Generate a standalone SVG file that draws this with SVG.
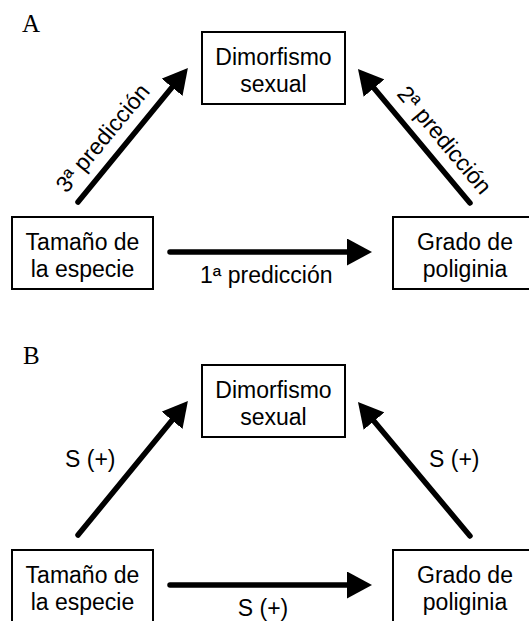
<svg xmlns="http://www.w3.org/2000/svg" width="529" height="621" viewBox="0 0 529 621">
  <style>
    .box { fill: #fff; stroke: #000; stroke-width: 2; }
    .t { font-family: "Liberation Sans", Arial, sans-serif; font-size: 23px; fill: #000; text-anchor: middle; }
    .lbl { font-family: "Liberation Sans", Arial, sans-serif; font-size: 23px; fill: #000; }
    .panel { font-family: "Liberation Serif", "Times New Roman", serif; font-size: 25px; fill: #000; }
    .arr { stroke: #000; stroke-width: 5.5; stroke-linecap: round; fill: none; marker-end: url(#ah); }
  </style>
  <defs>
    <marker id="ah" markerUnits="userSpaceOnUse" markerWidth="25" markerHeight="27" viewBox="0 0 25 27" refX="10" refY="13.5" orient="auto">
      <path d="M0,0 L25,13.5 L0,27 Z" fill="#000"/>
    </marker>
  </defs>

  <text class="panel" x="22" y="31.5">A</text>
  <text class="panel" x="23" y="364">B</text>

  <!-- Panel A nodes -->
  <g id="a-dimorfismo">
    <rect class="box" x="202" y="32" width="143" height="72"/>
    <text class="t" x="273.5" y="65">Dimorfismo</text>
    <text class="t" x="273.5" y="92">sexual</text>
  </g>
  <g id="a-tamano">
    <rect class="box" x="12" y="217" width="141" height="72"/>
    <text class="t" x="82.5" y="250">Tamaño de</text>
    <text class="t" x="82.5" y="277">la especie</text>
  </g>
  <g id="a-grado">
    <rect class="box" x="393" y="217" width="144" height="72"/>
    <text class="t" x="465" y="250">Grado de</text>
    <text class="t" x="465" y="277">poliginia</text>
  </g>

  <!-- Panel B nodes -->
  <g id="b-dimorfismo">
    <rect class="box" x="202" y="365" width="143" height="72"/>
    <text class="t" x="273.5" y="398">Dimorfismo</text>
    <text class="t" x="273.5" y="425">sexual</text>
  </g>
  <g id="b-tamano">
    <rect class="box" x="12" y="550" width="141" height="72"/>
    <text class="t" x="82.5" y="583">Tamaño de</text>
    <text class="t" x="82.5" y="610">la especie</text>
  </g>
  <g id="b-grado">
    <rect class="box" x="393" y="550" width="144" height="72"/>
    <text class="t" x="465" y="583">Grado de</text>
    <text class="t" x="465" y="610">poliginia</text>
  </g>

  <!-- Connectors -->
  <g id="connectors">
    <!-- Panel A -->
    <line class="arr" x1="170" y1="252" x2="357" y2="252"/>
    <line class="arr" x1="78" y1="202" x2="178.4" y2="79.6"/>
    <line class="arr" x1="470" y1="203" x2="367.6" y2="80.5"/>
    <!-- Panel B -->
    <line class="arr" x1="170" y1="585" x2="357" y2="585"/>
    <line class="arr" x1="78" y1="535" x2="178.4" y2="412.6"/>
    <line class="arr" x1="470" y1="536" x2="367.6" y2="413.5"/>

    <!-- Labels A -->
    <text class="lbl" x="200" y="283">1ª predicción</text>
    <text class="t" transform="translate(108.7,143) rotate(-50.4)" x="0" y="0">3ª predicción</text>
    <text class="t" transform="translate(438.5,145) rotate(50.1)" x="0" y="0">2ª predicción</text>

    <!-- Labels B -->
    <text class="t" x="263" y="616">S (+)</text>
    <text class="lbl" x="65" y="467">S (+)</text>
    <text class="lbl" x="429" y="467">S (+)</text>
  </g>
</svg>
